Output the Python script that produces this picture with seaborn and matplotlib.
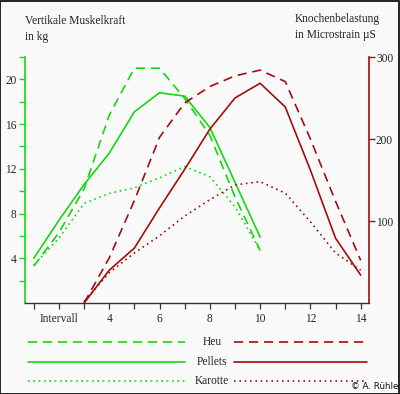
import numpy as np
import pandas as pd
import matplotlib
matplotlib.use("Agg")
import matplotlib.pyplot as plt
from matplotlib.lines import Line2D
from matplotlib.patches import Rectangle
from matplotlib.ticker import FixedLocator
import seaborn as sns

# ---- data ----
interval_green = [1, 2, 3, 4, 5, 6, 7, 8, 9, 10]
heu_kg = [3.3, 6.3, 10.2, 16.8, 21.0, 21.0, 18.3, 15.0, 9.5, 4.7]
pellets_kg = [4.0, 7.4, 10.6, 13.4, 17.1, 18.8, 18.5, 15.7, 10.8, 5.9]
karotte_kg = [3.4, 5.8, 8.9, 9.8, 10.3, 11.2, 12.2, 11.3, 8.6, 4.7]

interval_red = [3, 4, 5, 6, 7, 8, 9, 10, 11, 12, 13, 14]
heu_us = [0, 55, 125, 202, 244, 264, 277, 284, 270, 200, 124, 52]
pellets_us = [0, 40, 67, 116, 163, 212, 250, 268, 239, 162, 79, 34]
karotte_us = [2, 37, 61, 82, 106, 126, 144, 148, 134, 99, 61, 40]

feed_labels = ["Heu", "Pellets", "Karotte"]
x_tick_values = [2, 4, 6, 8, 10, 12, 14]
x_tick_labels = ["Intervall", "4", "6", "8", "10", "12", "14"]
left_ticks = [4, 8, 12, 16, 20]
right_ticks = [100, 200, 300]

GREEN = "#14d814"
RED = "#a30d0d"
BG = "#fafafa"
styles = {"Heu": (0, (5.5, 3.5)), "Pellets": "-", "Karotte": (0, (1, 2.2))}

sns.set_style("white")
plt.rcParams["font.family"] = ["Liberation Serif", "DejaVu Serif"]
FS = 8.3

fig = plt.figure(figsize=(4.0, 3.94), dpi=100, facecolor=BG)
ax = fig.add_axes([25 / 400, 1 - 303 / 394, (369 - 25) / 400, (303 - 57) / 394])
ax.set_facecolor(BG)
ax2 = ax.twinx()

df_g = pd.DataFrame({"x": interval_green, "Heu": heu_kg, "Pellets": pellets_kg, "Karotte": karotte_kg})
df_r = pd.DataFrame({"x": interval_red, "Heu": heu_us, "Pellets": pellets_us, "Karotte": karotte_us})

lw = 1.2
for name in feed_labels:
    sns.lineplot(data=df_g, x="x", y=name, ax=ax, color=GREEN, linestyle=styles[name], linewidth=lw)
    sns.lineplot(data=df_r, x="x", y=name, ax=ax2, color=RED, linestyle=styles[name], linewidth=lw)

ax.set_xlim(0.65, 14.33)
ax.set_ylim(0, 22)
ax2.set_ylim(0, 300)
ax.set_xlabel("")
ax.set_ylabel("")
ax2.set_ylabel("")

# spines
for a in (ax, ax2):
    a.spines["top"].set_visible(False)
ax.spines["right"].set_visible(False)
ax2.spines["left"].set_visible(False)
ax2.spines["bottom"].set_visible(False)
ax.spines["left"].set_color(GREEN)
ax.spines["left"].set_linewidth(1.2)
ax2.spines["right"].set_color(RED)
ax2.spines["right"].set_linewidth(1.2)
ax.spines["bottom"].set_color("#333333")
ax.spines["bottom"].set_linewidth(1.0)

# ticks
ax.set_xticks(x_tick_values)
ax.set_xticklabels(x_tick_labels)
ax.xaxis.set_minor_locator(FixedLocator([1, 3, 5, 7, 9, 11, 13]))
ax.tick_params(axis="x", which="both", direction="out", length=4, width=0.9,
               color="#333333", labelsize=FS, pad=3, bottom=True)
ax.set_yticks(left_ticks)
ax.yaxis.set_minor_locator(FixedLocator([2, 6, 10, 14, 18, 22]))
ax.tick_params(axis="y", which="both", direction="out", length=4, width=1.0,
               color=GREEN, labelsize=FS, pad=2, left=True)
ax2.set_yticks(right_ticks)
ax2.tick_params(axis="y", which="both", direction="out", length=4, width=1.0,
                color=RED, labelsize=FS, pad=1, right=True)
ax.grid(False)
ax2.grid(False)
for lab in ax.get_xticklabels():
    if lab.get_text() == "Intervall":
        lab.set_x(1.85)

# axis titles
fig.text(25 / 400, 1 - 15 / 394, "Vertikale Muskelkraft\nin kg", ha="left", va="top",
         fontsize=FS, linespacing=1.4, color="#222222")
fig.text(295 / 400, 1 - 13 / 394, "Knochenbelastung\nin Microstrain µS", ha="left", va="top",
         fontsize=FS, linespacing=1.4, color="#222222")

# legend drawn below
rows_y = [342, 362, 381]
for name, yy in zip(feed_labels, rows_y):
    yf = 1 - yy / 394
    fig.add_artist(Line2D([28 / 400, 185 / 400], [yf, yf], transform=fig.transFigure,
                          color=GREEN, linestyle=styles[name], linewidth=lw))
    fig.add_artist(Line2D([234 / 400, 367 / 400], [yf, yf], transform=fig.transFigure,
                          color=RED, linestyle=styles[name], linewidth=lw))
    fig.text(212 / 400, yf, name, ha="center", va="center", fontsize=FS, color="#222222")

fig.text(398 / 400, 1 - 391 / 394, "© A. Rühle", ha="right", va="bottom",
         fontsize=6.3, family=["DejaVu Sans"], color="#111111")

fig.add_artist(Rectangle((0.0012, 0.0012), 0.9975, 0.9975, transform=fig.transFigure,
                         fill=False, edgecolor="black", linewidth=1.2))

fig.savefig("out.png", dpi=100, facecolor=BG)
